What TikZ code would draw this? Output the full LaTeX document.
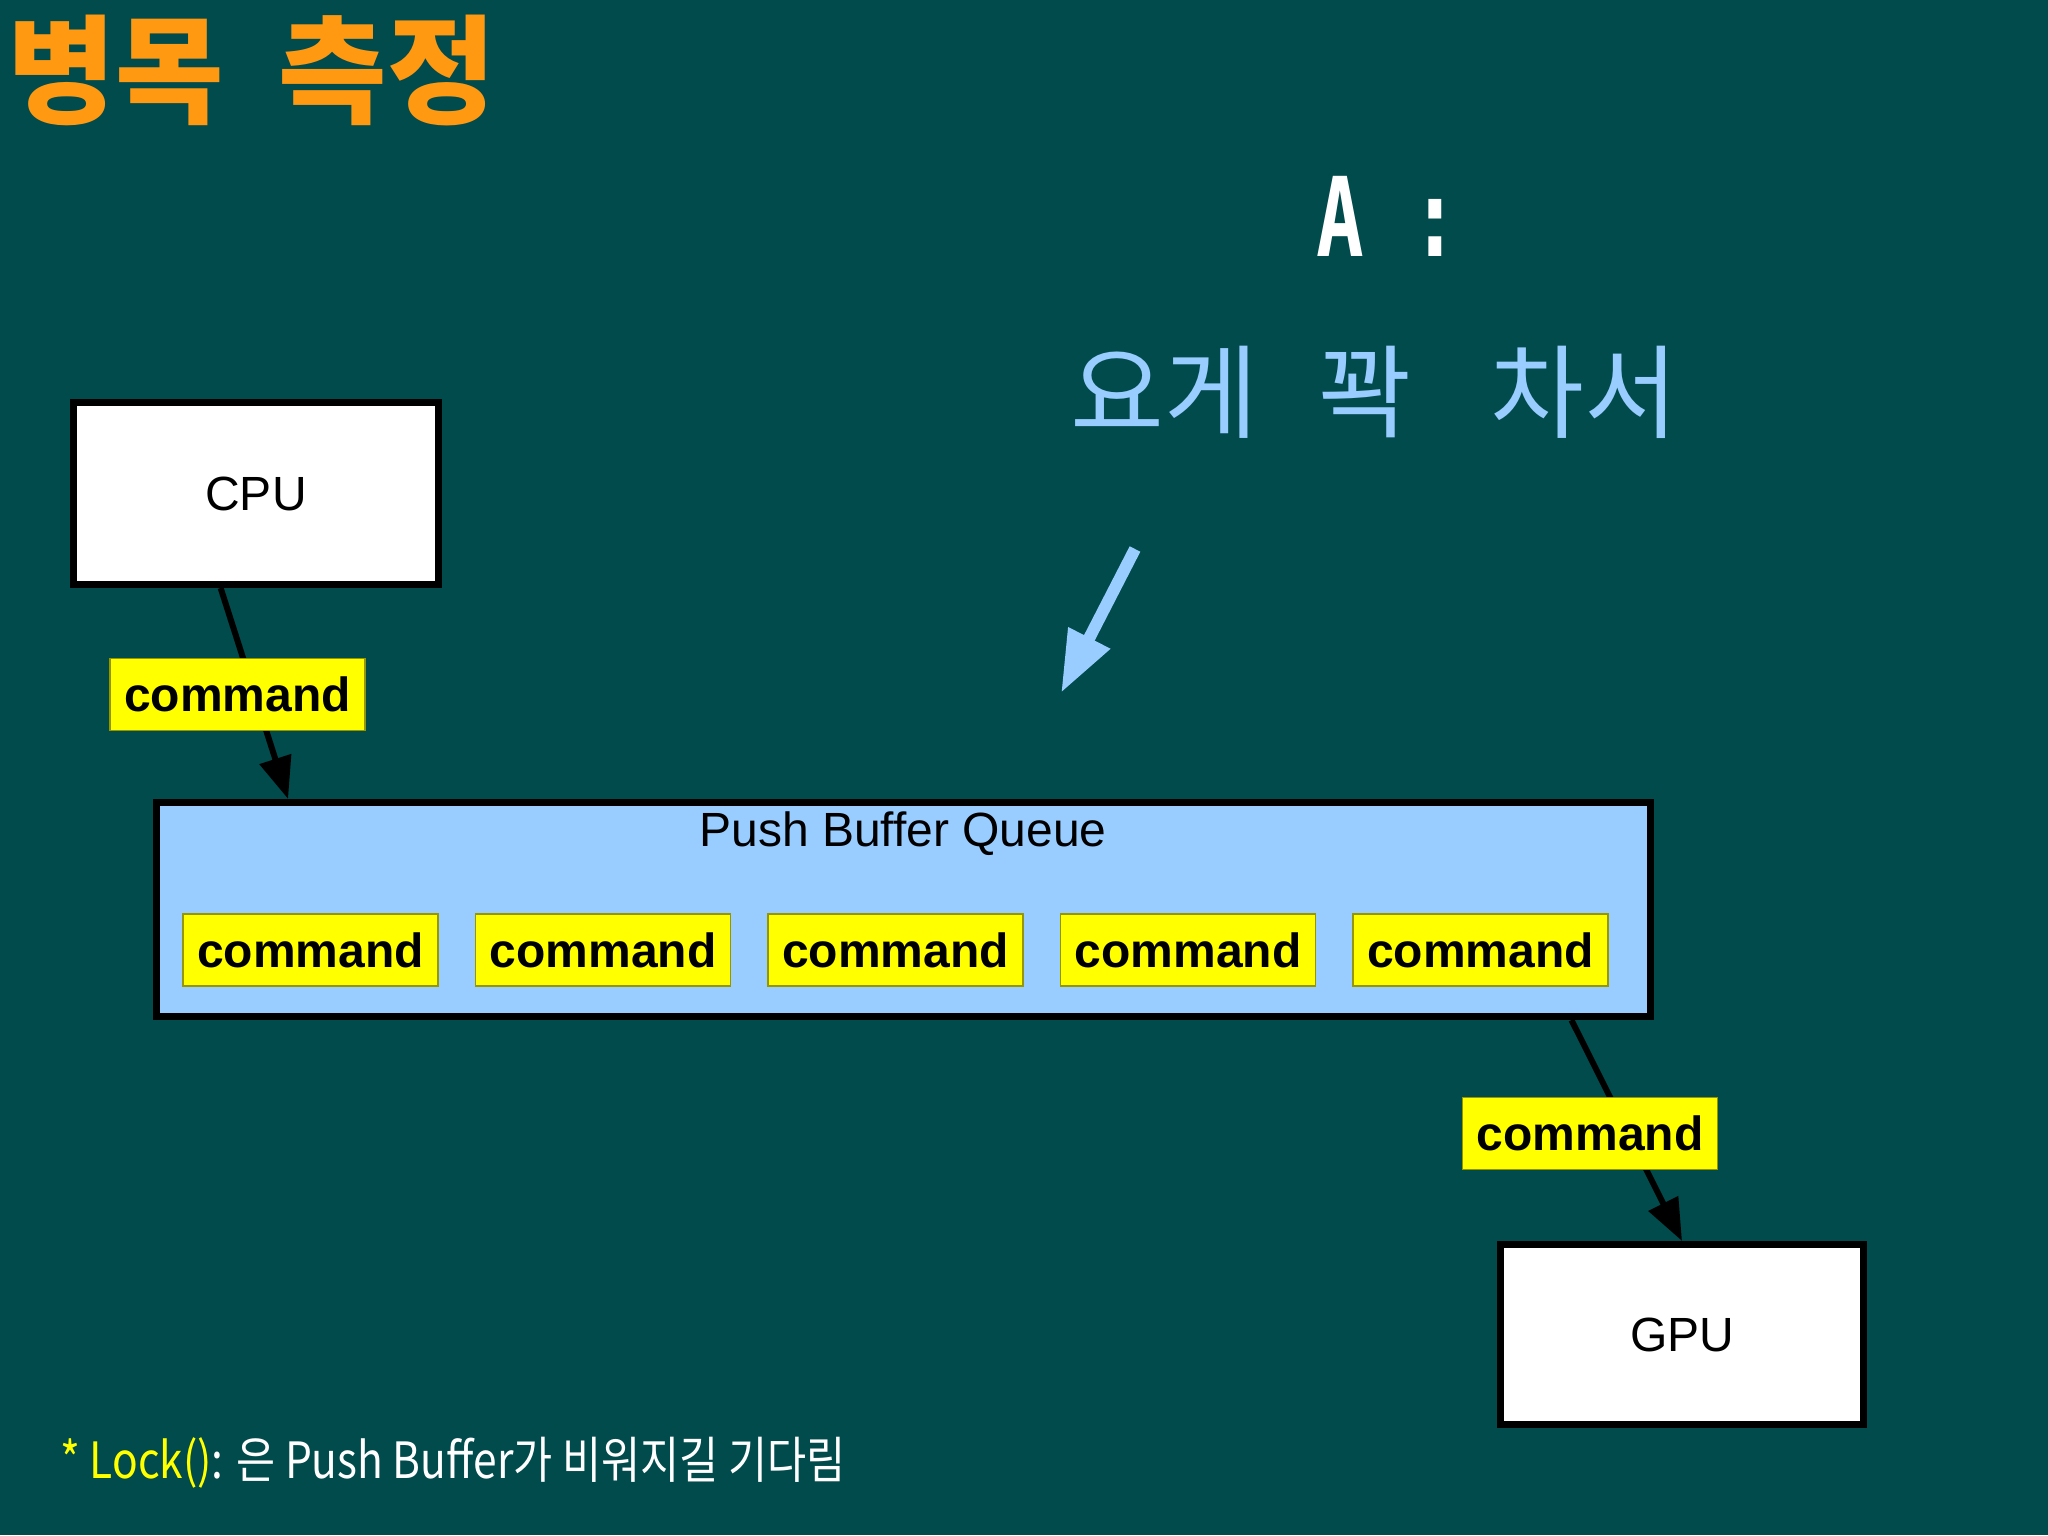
\documentclass[tikz,border=0pt]{standalone}
\usepackage{fontspec}
\usepackage{graphicx}
\setmainfont{Liberation Sans}
\newfontfamily\kr{Noto Sans CJK KR}
\newfontfamily\monofnt{DejaVu Sans Mono}
\usetikzlibrary{arrows.meta,calc}
\definecolor{bg}{RGB}{1,75,76}
\definecolor{titleorange}{RGB}{255,153,18}
\definecolor{lightblue}{RGB}{153,204,255}
\definecolor{cmdyellow}{RGB}{255,255,0}
\definecolor{cmdedge}{RGB}{150,150,0}
\begin{document}
\begin{tikzpicture}[x=0.5pt,y=-0.5pt,
  hwbox/.style={draw=black, line width=3.5pt, fill=white, inner sep=0pt, font=\fontsize{24}{28}\selectfont},
  cmdbox/.style={draw=cmdedge, line width=0.6pt, fill=cmdyellow, minimum width=127.5pt, minimum height=36pt, inner sep=0pt, font=\fontsize{24}{28}\selectfont\bfseries},
  flow/.style={line width=3pt, -{Triangle[length=21pt,width=16pt]}},
]
\fill[bg] (0,0) rectangle (2048,1535);
\useasboundingbox (0,0) rectangle (2048,1535);

% title
\node[anchor=base west, inner sep=0pt, text=titleorange, font=\kr\bfseries\fontsize{59}{64}\selectfont] (title) at (7,115) {병목\hspace{27pt}측정};

% answer
\node[anchor=base west, inner sep=0pt, text=white, font=\monofnt\bfseries\fontsize{55}{60}\selectfont] (ans) at (1316,257) {\scalebox{0.72}[1]{A :}};
\node[anchor=base, inner sep=0pt, text=lightblue, font=\kr\fontsize{51}{55}\selectfont] (w1) at (1164,430) {요게};
\node[anchor=base, inner sep=0pt, text=lightblue, font=\kr\fontsize{51}{55}\selectfont] (w2) at (1365,430) {꽉};
\node[anchor=base, inner sep=0pt, text=lightblue, font=\kr\fontsize{51}{55}\selectfont] (w3) at (1584,430) {차서};

% pointer arrow
\coordinate (btail) at (1135,549);
\coordinate (btip) at (1061,693);
\draw[lightblue, line width=6pt, -{Triangle[length=31pt,width=22pt]}] (btail) -- (btip);

% boxes
\node[hwbox, minimum width=182.5pt, minimum height=91pt] (cpu) at (256,493.5) {CPU};
\node[hwbox, minimum width=181.5pt, minimum height=90pt] (gpu) at (1682,1334.5) {GPU};
\node[draw=black, line width=3.5pt, fill=lightblue, minimum width=747pt, minimum height=107pt, inner sep=0pt] (queue) at (903.5,909.5) {};
\node[inner sep=0pt, font=\fontsize{24}{28}\selectfont] (qlabel) at (903,834) {Push Buffer Queue};
\foreach \i/\x in {1/310.5,2/603,3/895.5,4/1188,5/1480.5}
  \node[cmdbox] (cmd\i) at (\x,950) {command};

% connectors
\draw[flow] ($(cpu.south west)!0.405!(cpu.south east)$) -- ($(queue.north west)!0.09!(queue.north east)$);
\draw[flow] ($(queue.south west)!0.945!(queue.south east)$) -- ($(gpu.north west)!0.5!(gpu.north east)$);
\node[cmdbox] (lab1) at (237.5,694.5) {command};
\node[cmdbox] (lab2) at (1590,1133.5) {command};

% note
\node[anchor=base west, inner sep=0pt, font=\kr\fontsize{25}{28}\selectfont] (note) at (60,1478) {\scalebox{0.85}[1]{\textcolor{cmdyellow}{* Lock()}\textcolor{white}{: 은 Push Buffer가 비워지길 기다림}}};
\end{tikzpicture}
\end{document}
